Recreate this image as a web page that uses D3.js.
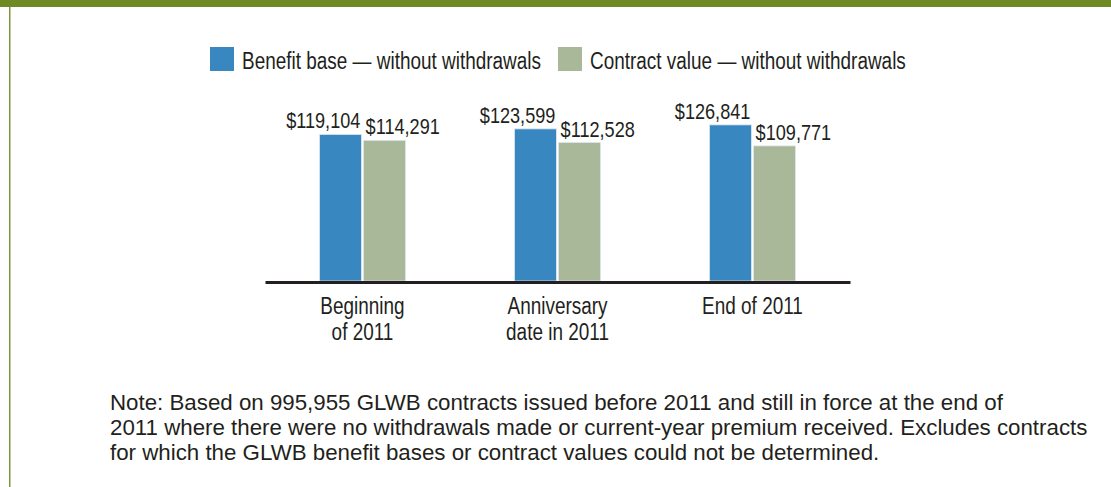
<!DOCTYPE html>
<html>
<head>
	<script src="https://cdn.jsdelivr.net/npm/d3@7"></script>
	<style>
		html, body {
			padding: 0;
			margin: 0;
			background: #ffffff;
		}
	</style>
</head>
<body>
	<script>
		var width = 1111, height = 487;

		// data
		var categories = ["Beginning\nof 2011", "Anniversary\ndate in 2011", "End of 2011"];
		var seriesNames = ["Benefit base \u2014 without withdrawals", "Contract value \u2014 without withdrawals"];
		var benefitBase = [119104, 123599, 126841];
		var contractValue = [114291, 112528, 109771];
		var noteLines = [
			"Note: Based on 995,955 GLWB contracts issued before 2011 and still in force at the end of",
			"2011 where there were no withdrawals made or current-year premium received. Excludes contracts",
			"for which the GLWB benefit bases or contract values could not be determined."
		];

		var colors = ["#3987c0", "#a9b898"];
		var font = "'Liberation Sans', Arial, sans-serif";
		var ink = "#231f20";

		var svg = d3.select('body').append('svg')
			.attr('width', width)
			.attr('height', height);

		// no condensed face installed, so squeeze the glyphs horizontally
		var squeeze = 1;
		function condense(sel) {
			sel.each(function() {
				var w = this.getComputedTextLength();
				d3.select(this)
					.attr("textLength", w * squeeze)
					.attr("lengthAdjust", "spacingAndGlyphs");
			});
		}

		// frame: top band + left rule
		svg.append("rect")
			.attr("x", 0).attr("y", 0)
			.attr("width", width).attr("height", 7)
			.attr("fill", "#6d8a23");
		svg.append("rect")
			.attr("x", 9).attr("y", 7)
			.attr("width", 1.5).attr("height", height - 7)
			.attr("fill", "#7d9a3a");

		//////// SCALES ////////
		var baseline = 281;
		var x0 = d3.scaleBand()
			.domain(categories)
			.range([265, 850]);

		var x1 = d3.scaleBand()
			.domain([0, 1])
			.range([x0.bandwidth() / 2 - 43, x0.bandwidth() / 2 + 43])
			.paddingInner(0.05);

		var y = d3.scaleLinear()
			.domain([0, 130000])
			.range([baseline, baseline - 160]);

		//////// LEGEND ////////
		var legend = svg.append("g");
		var legendX = [210, 558];
		var legendText = [];
		seriesNames.forEach(function(name, i) {
			legend.append("rect")
				.attr("x", legendX[i]).attr("y", 47)
				.attr("width", 24).attr("height", 24)
				.attr("fill", colors[i]);
			legendText.push(legend.append("text")
				.attr("x", legendX[i] + 32).attr("y", 69)
				.attr("font-family", font)
				.attr("font-size", 23)
				.attr("fill", ink)
				.text(name));
		});
		// reference legend label spans about 299px
		squeeze = 299 / legendText[0].node().getComputedTextLength();
		legendText.forEach(condense);

		//////// BARS ////////
		var rows = categories.map(function(c, i) {
			return { cat: c, values: [benefitBase[i], contractValue[i]] };
		});

		var groups = svg.selectAll("g.group")
			.data(rows)
			.enter().append("g")
			.attr("class", "group")
			.attr("transform", function(d) { return "translate(" + x0(d.cat) + ",0)"; });

		groups.selectAll("rect")
			.data(function(d) { return d.values; })
			.enter().append("rect")
			.attr("x", function(d, i) { return x1(i); })
			.attr("y", function(d) { return y(d); })
			.attr("width", x1.bandwidth())
			.attr("height", function(d) { return baseline - y(d); })
			.attr("fill", function(d, i) { return colors[i]; })
			.attr("stroke", "#dde7ef")
			.attr("stroke-width", 0.8);

		var fmt = d3.format("$,");
		groups.selectAll("text.val")
			.data(function(d) { return d.values; })
			.enter().append("text")
			.attr("class", "val")
			.attr("x", function(d, i) { return i === 0 ? x1(i) + x1.bandwidth() - 1 : x1(i) + 2; })
			.attr("y", function(d) { return y(d) - 6; })
			.attr("text-anchor", function(d, i) { return i === 0 ? "end" : "start"; })
			.attr("font-family", font)
			.attr("font-size", 22)
			.attr("fill", ink)
			.text(function(d) { return fmt(d); })
			.call(condense);

		//////// AXIS ////////
		var xAxis = svg.append("g")
			.attr("transform", "translate(0," + (baseline + 1) + ")")
			.call(d3.axisBottom(x0).tickSize(0).tickPadding(0).tickFormat(""));
		xAxis.select(".domain")
			.attr("stroke", ink)
			.attr("stroke-width", 3);

		xAxis.selectAll(".tick").each(function(d) {
			var t = d3.select(this).append("text")
				.attr("font-family", font)
				.attr("font-size", 23)
				.attr("fill", ink)
				.attr("text-anchor", "middle");
			d.split("\n").forEach(function(line, k) {
				t.append("tspan")
					.attr("x", 0)
					.attr("y", 32 + k * 26)
					.text(line);
			});
			t.selectAll("tspan").call(condense);
		});

		//////// NOTE ////////
		var note = svg.append("text")
			.attr("font-family", font)
			.attr("font-size", 22.3)
			.attr("fill", ink);
		noteLines.forEach(function(line, k) {
			note.append("tspan")
				.attr("x", 110)
				.attr("y", 410 + k * 25)
				.text(line);
		});
	</script>
</body>
</html>
